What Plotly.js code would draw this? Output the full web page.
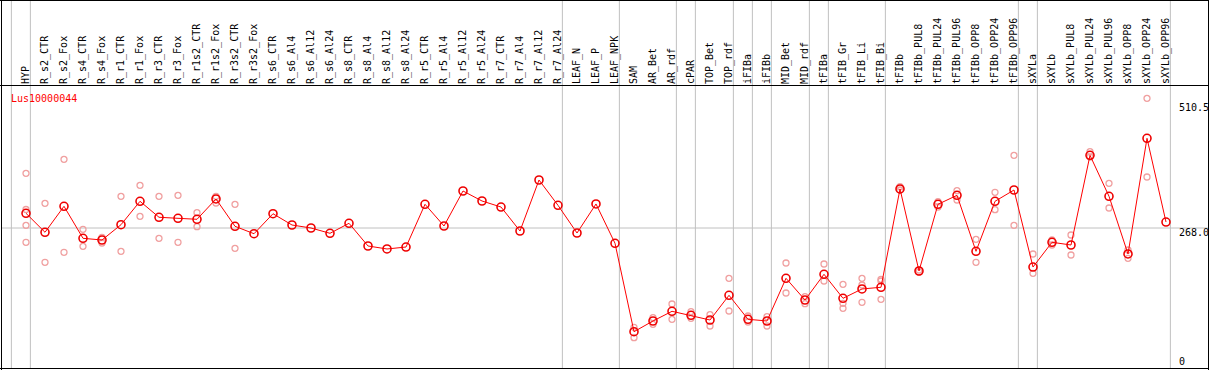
<!DOCTYPE html>
<html>
<head>
<meta charset="utf-8">
<script src="https://cdn.plot.ly/plotly-3.0.1.min.js"></script>
<style>
  html, body { margin: 0; padding: 0; background: #ffffff; }
  #chart { width: 1209px; height: 370px; }
</style>
</head>
<body>
<div id="chart"></div>
<script>
const geneName = 'Lus10000044';

const categories = [
  'HYP', 'R_s2_CTR', 'R_s2_Fox', 'R_s4_CTR', 'R_s4_Fox', 'R_r1_CTR', 'R_r1_Fox',
  'R_r3_CTR', 'R_r3_Fox', 'R_r1s2_CTR', 'R_r1s2_Fox', 'R_r3s2_CTR', 'R_r3s2_Fox',
  'R_s6_CTR', 'R_s6_Al4', 'R_s6_Al12', 'R_s6_Al24', 'R_s8_CTR', 'R_s8_Al4',
  'R_s8_Al12', 'R_s8_Al24', 'R_r5_CTR', 'R_r5_Al4', 'R_r5_Al12', 'R_r5_Al24',
  'R_r7_CTR', 'R_r7_Al4', 'R_r7_Al12', 'R_r7_Al24', 'LEAF_N', 'LEAF_P', 'LEAF_NPK',
  'SAM', 'AR_Bet', 'AR_rdf', 'cPAR', 'TOP_Bet', 'TOP_rdf', 'iFIBa', 'iFIBb',
  'MID_Bet', 'MID_rdf', 'tFIBa', 'tFIB_Gr', 'tFIB_Li', 'tFIB_Bi', 'tFIBb',
  'tFIBb_PUL8', 'tFIBb_PUL24', 'tFIBb_PUL96', 'tFIBb_OPP8', 'tFIBb_OPP24', 'tFIBb_OPP96',
  'sXYLa', 'sXYLb', 'sXYLb_PUL8', 'sXYLb_PUL24', 'sXYLb_PUL96', 'sXYLb_OPP8',
  'sXYLb_OPP24', 'sXYLb_OPP96'
];

const means = [
  296.5, 259.7, 310.1, 248.0, 244.7, 274.4, 319.8, 288.8, 286.8, 284.9, 324.3, 271.3, 256.9,
  295.7, 273.8, 268.0, 257.7, 277.1, 233.1, 227.3, 231.1, 314.0, 271.9, 339.8, 320.4,
  308.7, 262.2, 361.1, 312.0, 258.3, 314.6, 238.3,
  66.8, 87.6, 106.4, 98.6, 89.5, 137.4, 90.9, 87.6, 170.4, 128.3, 178.2, 131.6, 149.7, 153.0,
  343.7, 184.6, 314.0, 331.4, 222.8, 319.8, 341.7,
  192.3, 240.3, 235.0, 409.0, 329.5, 217.6, 442.0, 279.6
];

const replicates = [
  [374.1, 303.9, 273.2, 240.3], [315.9, 201.5], [401.3, 220.9], [265.5, 232.5], [249.6, 238.9],
  [329.5, 222.8], [350.8, 290.7], [329.5, 248.0], [331.4, 240.3], [297.7, 270.5],
  [329.5, 316.5], [314.0, 228.6], [],
  [], [], [], [], [], [], [], [], [], [], [], [], [], [], [], [], [], [], [],
  [75.4, 55.2], [94.0, 81.2], [120.6, 90.9], [105.6, 92.8], [99.8, 77.9], [170.4, 107.0],
  [97.3, 85.6], [95.9, 77.9], [200.1, 141.9], [134.7, 121.1], [198.2, 165.2],
  [158.8, 121.9, 112.2], [170.4, 157.4, 123.9], [168.5, 165.2, 129.7],
  [348.1, 341.7], [186.5, 182.6], [319.0, 308.7], [340.4, 322.3], [246.1, 201.5],
  [337.3, 303.5], [409.0, 273.2],
  [217.6, 180.1], [244.7, 235.0], [254.4, 215.6], [416.0, 405.7], [354.7, 306.8],
  [225.3, 209.2], [519.6, 366.9], []
];

// group separator lines, drawn after these category indices (-1 = before the first)
const groupEdges = [-1, 0, 28, 31, 34, 35, 37, 38, 39, 41, 42, 45, 52, 53, 60];

const yTickValues = [510.5, 268.0, 0];
const yTickLabels = ['510.5', '268.0', '0'];
const referenceLevel = 268.0;

// ---- layout geometry ----
const W = 1209, Hh = 370;
const mL = 1, mR = 1, mT = 85, mB = 1;
const plotW = W - mL - mR, plotH = Hh - mT - mB;
const xRange = [-1.3158, -1.3158 + plotW / 19];
const yRange = [-5.54, 545.42];
const px2paperX = p => (p - mL) / plotW;
const px2paperY = p => (mT + plotH - p) / plotH;

const repX = [], repY = [];
replicates.forEach((vals, i) => vals.forEach(v => { repX.push(categories[i]); repY.push(v); }));

const font = 'DejaVu Sans Mono, Liberation Mono, monospace';

const traces = [
  {
    type: 'scatter', mode: 'markers', x: repX, y: repY, hoverinfo: 'skip',
    marker: { symbol: 'circle-open', size: 6, color: '#f0a0a0', line: { width: 1.3 } }
  },
  {
    type: 'scatter', mode: 'lines+markers', x: categories, y: means,
    line: { color: '#ff0000', width: 1 },
    marker: { symbol: 'circle-open', size: 8, color: '#ee0000', line: { width: 1.6 } }
  }
];

const shapes = [];
groupEdges.forEach(i => {
  shapes.push({
    type: 'line', xref: 'x', yref: 'paper', x0: i + 0.23, x1: i + 0.23,
    y0: px2paperY(0), y1: px2paperY(369), line: { color: '#c0c0c0', width: 1 }, layer: 'below'
  });
});
shapes.push({
  type: 'line', xref: 'paper', yref: 'y', x0: 0, x1: 1, y0: referenceLevel, y1: referenceLevel,
  line: { color: '#c0c0c0', width: 1 }, layer: 'below'
});
// frame
const blk = { color: '#000000', width: 1 };
shapes.push({ type: 'line', xref: 'paper', yref: 'paper', x0: px2paperX(0), x1: px2paperX(1209), y0: px2paperY(0.5), y1: px2paperY(0.5), line: blk });
shapes.push({ type: 'line', xref: 'paper', yref: 'paper', x0: px2paperX(0), x1: px2paperX(1209), y0: px2paperY(85.5), y1: px2paperY(85.5), line: blk });
shapes.push({ type: 'line', xref: 'paper', yref: 'paper', x0: px2paperX(0), x1: px2paperX(1209), y0: px2paperY(368.5), y1: px2paperY(368.5), line: blk });
shapes.push({ type: 'line', xref: 'paper', yref: 'paper', x0: px2paperX(1.5), x1: px2paperX(1.5), y0: px2paperY(0), y1: px2paperY(370), line: blk });
shapes.push({ type: 'line', xref: 'paper', yref: 'paper', x0: px2paperX(1208.5), x1: px2paperX(1208.5), y0: px2paperY(0), y1: px2paperY(370), line: blk });

const annotations = [];
yTickValues.forEach((v, k) => {
  annotations.push({
    xref: 'paper', yref: 'y', x: px2paperX(1178), y: v, xanchor: 'left',
    yanchor: v === 0 ? 'bottom' : 'top', yshift: v === 0 ? -2 : 2,
    text: yTickLabels[k], showarrow: false, borderpad: 0,
    font: { family: font, size: 10, color: '#000000' }
  });
});
annotations.push({
  xref: 'paper', yref: 'paper', x: px2paperX(9.5), y: px2paperY(91.5), xanchor: 'left', yanchor: 'top',
  text: geneName, showarrow: false, borderpad: 0,
  font: { family: font, size: 10, color: '#ff0000' }
});

const layout = {
  width: W, height: Hh,
  margin: { l: mL, r: mR, t: mT, b: mB, pad: 0 },
  paper_bgcolor: '#ffffff', plot_bgcolor: '#ffffff',
  showlegend: false,
  xaxis: {
    type: 'category', categoryorder: 'array', categoryarray: categories,
    range: xRange, side: 'top', showgrid: false, zeroline: false,
    showline: false, ticks: '', tickmode: 'array', tickvals: categories, ticktext: categories,
    tickangle: -90, tickfont: { family: font, size: 10, color: '#000000' }, fixedrange: true
  },
  yaxis: {
    range: yRange, showgrid: false, zeroline: false, showline: false, showticklabels: false,
    ticks: '', fixedrange: true
  },
  shapes: shapes,
  annotations: annotations
};

Plotly.newPlot('chart', traces, layout, { displayModeBar: false, staticPlot: true });
</script>
</body>
</html>
